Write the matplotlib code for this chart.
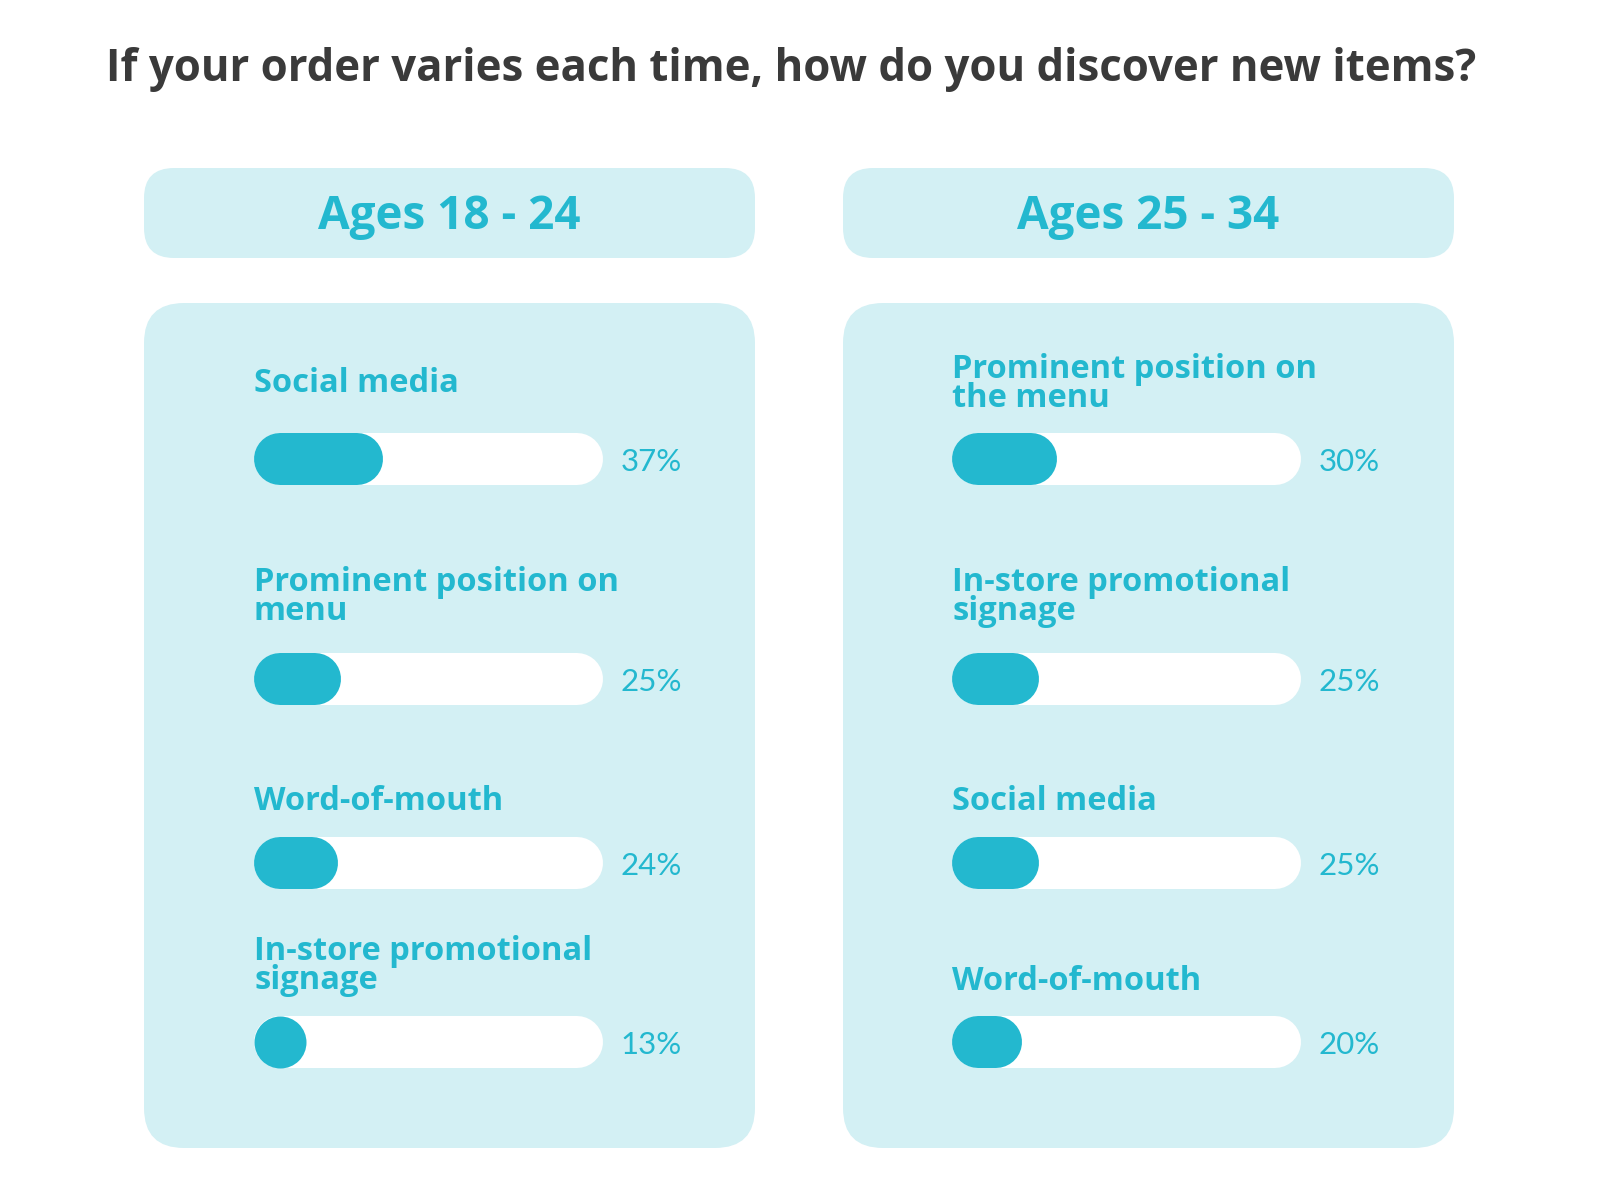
import matplotlib.pyplot as plt
from matplotlib.patches import FancyBboxPatch

# data
title = "If your order varies each time, how do you discover new items?"
groups = ["Ages 18 - 24", "Ages 25 - 34"]
labels_1824 = ["Social media", "Prominent position on\nmenu", "Word-of-mouth",
               "In-store promotional\nsignage"]
values_1824 = [37, 25, 24, 13]
labels_2534 = ["Prominent position on\nthe menu", "In-store promotional\nsignage",
               "Social media", "Word-of-mouth"]
values_2534 = [30, 25, 25, 20]

# style / layout (pixels, figure is 1600x1200)
teal = "#23b8cf"
pale = "#d3f0f4"
dark = "#3a3a3a"
font = "Open Sans"
panel_x = [144, 843]
panel_w = 611
track_x = [254, 952]
track_w = 349
bar_h = 52
bar_y = [[459, 679, 863, 1042], [459, 679, 863, 1042]]
label_y = [[384, 597, 802, 966], [384, 597, 802, 981]]

fig = plt.figure(figsize=(16, 12), dpi=100)
bg = fig.add_axes([0, 0, 1, 1])
bg.set_xlim(0, 1600)
bg.set_ylim(1200, 0)
bg.axis("off")

bg.text(791, 69, title, ha="center", va="center", fontsize=31.5,
        fontweight="bold", color=dark, family=font)

lw = bar_h * 72 / 100
cap = bar_h / 2 / track_w * 100

for i, (grp, labels, values) in enumerate([(groups[0], labels_1824, values_1824),
                                           (groups[1], labels_2534, values_2534)]):
    x0 = panel_x[i]
    bg.add_patch(FancyBboxPatch((x0 + 30, 168 + 30), panel_w - 60, 90 - 60,
                                boxstyle="round,pad=30", fc=pale, ec="none"))
    bg.add_patch(FancyBboxPatch((x0 + 40, 303 + 40), panel_w - 80, 845 - 80,
                                boxstyle="round,pad=40", fc=pale, ec="none"))
    bg.text(x0 + panel_w / 2, 216, grp, ha="center", va="center", fontsize=33,
            fontweight="bold", color=teal, family=font)

    ax = fig.add_axes([track_x[i] / 1600, 0, track_w / 1600, 1])
    ax.set_xlim(0, 100)
    ax.set_ylim(1200, 0)
    ax.axis("off")
    for lab, v, by, ly in zip(labels, values, bar_y[i], label_y[i]):
        ax.plot([cap, 100 - cap], [by, by], color="white", lw=lw,
                solid_capstyle="round")
        if v - cap > cap:
            ax.plot([cap, v - cap], [by, by], color=teal, lw=lw,
                    solid_capstyle="round")
        else:
            ax.plot([cap], [by], marker="o", ms=lw, color=teal, mec="none")
        ax.text(105, by + 3, f"{v}%", ha="left", va="center", fontsize=22.5,
                color=teal, family="Lato")
        ax.text(0, ly, lab, ha="left", va="center", fontsize=23.5,
                fontweight="bold", color=teal, family=font, linespacing=0.87)

fig.savefig("out.png", dpi=100)
